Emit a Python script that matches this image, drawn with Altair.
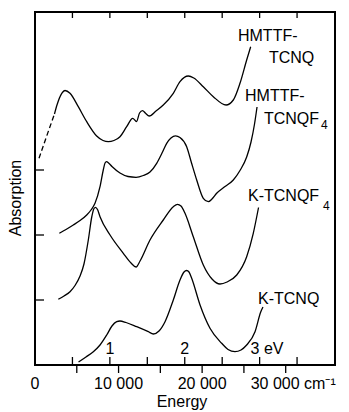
import altair as alt
import pandas as pd

# Energies in cm^-1 (thousands), absorption in arbitrary offset units
k_tcnq_e = [5.21, 6.10, 6.98, 7.78, 8.58, 9.21, 9.78, 10.17, 10.89, 12.17, 13.56, 14.16, 14.84, 15.56,
            16.55, 17.35, 17.83, 18.15, 18.43, 18.75, 19.75, 20.94, 22.34, 23.10, 23.93, 24.65, 25.33,
            26.33, 27.01, 27.28]
k_tcnq_a = [3, 8, 13.3, 20, 30, 39, 43.3, 44, 42.5, 38.3, 33.3, 31, 34, 43.3,
            65, 85, 93, 94.5, 93, 86.7, 60, 36.7, 21.7, 15.5, 13.3, 15, 20,
            33.3, 53, 58]

k_tcnqf4_e = [2.79, 3.47, 4.19, 4.79, 5.39, 5.86, 6.38, 6.79, 7.06, 7.24, 7.48, 7.78, 8.98, 10.57,
              11.49, 12.09, 12.57, 13.76, 15.35, 16.55, 17.05, 17.47, 17.95, 18.94, 20.14, 21.18,
              22.14, 22.98, 24.14, 25.33, 26.12, 26.75]
k_tcnqf4_a = [65.7, 69, 73.3, 79.5, 89, 101, 125, 148, 156.5, 157.7, 155.5, 148.3, 130, 111.7,
              102, 98, 104, 125, 145, 158.3, 160.7, 159, 151.7, 128.3, 100, 86,
              81, 83, 90, 108.3, 131.7, 157.5]

hm_tcnqf4_e = [2.91, 3.71, 4.58, 5.39, 6.19, 6.70, 7.18, 7.78, 8.17, 8.38, 8.56, 8.80, 9.21, 10.17,
               11.13, 12.09, 12.96, 13.76, 14.56, 15.20, 15.76, 16.27, 16.81, 17.35, 18.15, 18.73,
               19.35, 20.14, 20.74, 21.18, 21.74, 22.74, 23.73, 24.53, 25.33, 25.85, 26.27, 26.57]
hm_tcnqf4_a = [131.7, 135.5, 140, 144.5, 150, 155, 161.7, 178.3, 195, 202, 203.3, 202, 198.5, 192,
               188.5, 187.7, 189.5, 193, 201.7, 212, 221.7, 227, 229.2, 227.5, 218.3, 202,
               185, 166.7, 163.3, 166, 171.7, 178.5, 185, 194.5, 208, 223, 241, 258]

hm_tcnq_dash_e = [0.48, 1.40, 2.33]
hm_tcnq_dash_a = [206.7, 229, 251]

hm_tcnq_e = [2.33, 2.63, 3.20, 3.59, 4.19, 5.18, 6.19, 7.38, 8.14, 8.77, 9.45, 10.17, 10.97, 11.69,
             12.15, 12.51, 12.87, 13.20, 13.67, 14.48, 15.35, 16.55, 17.35, 18.35, 19.00, 20.14,
             21.34, 22.86, 23.73, 24.53, 25.33, 25.81]
hm_tcnq_a = [251, 260, 271.7, 274.5, 271.7, 258.3, 243.3, 229, 224.5, 223.3, 224.5, 228.3, 238.3, 246.7,
             243.5, 252, 254.3, 252, 249, 254, 260, 271.7, 283.3, 289, 287, 278.3,
             268.3, 260, 265, 281.7, 305, 318.3]

# curve labels
lab_text = ["HMTTF-", "TCNQ", "HMTTF-", "TCNQF", "4", "K-TCNQF", "4", "K-TCNQ"]
lab_e = [24.29, 28.0, 25.13, 27.40, 34.23, 25.49, 34.47, 26.69]
lab_a = [329, 307, 269, 246, 240.5, 169, 159.5, 66]
lab_size = [16, 16, 16, 16, 12, 16, 12, 16]

# axes
x_max = 35900
cm_ticks = [5000, 10000, 15000, 20000, 25000, 30000]
cm_lab_vals = [0, 10000, 20000]
cm_lab_text = ["0", "10 000", "20 000"]
ev_unit = 8960  # cm^-1 per eV as drawn
ev_ticks = [0.5, 1.0, 1.5, 2.0, 2.5, 3.0, 3.5]
ev_lab_vals = [1, 2]
ev_lab_text = ["1", "2"]
left_ticks = [65, 130, 195]

FONT = "Liberation Sans"

def curve_df(e, a, name):
    return pd.DataFrame({"E": [v * 1000 for v in e], "A": a, "s": name, "i": range(len(e))})

xs = alt.Scale(domain=[0, x_max], nice=False, zero=False)
ys = alt.Scale(domain=[0, 353], nice=False, zero=False)
X = lambda f="E": alt.X(f"{f}:Q", scale=xs, axis=None)
Y = lambda f="A": alt.Y(f"{f}:Q", scale=ys, axis=None)

curves = pd.concat([
    curve_df(k_tcnq_e, k_tcnq_a, "K-TCNQ"),
    curve_df(k_tcnqf4_e, k_tcnqf4_a, "K-TCNQF4"),
    curve_df(hm_tcnqf4_e, hm_tcnqf4_a, "HMTTF-TCNQF4"),
    curve_df(hm_tcnq_e, hm_tcnq_a, "HMTTF-TCNQ"),
])

lines = alt.Chart(curves).mark_line(color="black", strokeWidth=1.3, interpolate="monotone").encode(
    x=X(), y=Y(), detail="s:N", order="i:Q")

dash = alt.Chart(curve_df(hm_tcnq_dash_e, hm_tcnq_dash_a, "dash")).mark_line(
    color="black", strokeWidth=1.3, strokeDash=[5, 3]).encode(x=X(), y=Y(), order="i:Q")

labels = alt.Chart(pd.DataFrame({"t": lab_text, "E": [v * 1000 for v in lab_e], "A": lab_a, "sz": lab_size})).mark_text(
    align="left", baseline="middle", font=FONT, color="black").encode(
    x=X(), y=Y(), text="t:N", size=alt.Size("sz:Q", scale=None, legend=None))

left_t = alt.Chart(pd.DataFrame({"A": left_ticks})).mark_rule(color="black", strokeWidth=1.3).encode(
    x=alt.value(0), x2=alt.value(9), y=Y())

cm_t = alt.Chart(pd.DataFrame({"E": cm_ticks})).mark_rule(color="black", strokeWidth=1.3).encode(
    x=X(), y=alt.value(353), y2=alt.value(361))

ev_df = pd.DataFrame({"E": [v * ev_unit for v in ev_ticks]})
ev_bot = alt.Chart(ev_df).mark_rule(color="black", strokeWidth=1.3).encode(
    x=X(), y=alt.value(353), y2=alt.value(345))
ev_top = alt.Chart(ev_df).mark_rule(color="black", strokeWidth=1.3).encode(
    x=X(), y=alt.value(0), y2=alt.value(6))

ev_lab = alt.Chart(pd.DataFrame({"E": [v * ev_unit for v in ev_lab_vals], "t": ev_lab_text})).mark_text(
    align="center", baseline="middle", font=FONT, fontSize=16, color="black").encode(
    x=X(), y=alt.value(337), text="t:N")
ev_lab3 = alt.Chart(pd.DataFrame({"E": [3 * ev_unit], "t": ["3 eV"]})).mark_text(
    align="left", baseline="middle", font=FONT, fontSize=16, color="black", dx=-9).encode(
    x=X(), y=alt.value(337), text="t:N")

cm_lab = alt.Chart(pd.DataFrame({"E": cm_lab_vals, "t": cm_lab_text})).mark_text(
    align="center", baseline="middle", font=FONT, fontSize=16, color="black").encode(
    x=X(), y=alt.value(372), text="t:N")
cm_lab30 = alt.Chart(pd.DataFrame({"E": [30000], "t": ["30 000 cm⁻¹"]})).mark_text(
    align="left", baseline="middle", font=FONT, fontSize=16, color="black", dx=-35).encode(
    x=X(), y=alt.value(372), text="t:N")

energy_t = alt.Chart(pd.DataFrame({"t": ["Energy"]})).mark_text(
    align="center", baseline="top", font=FONT, fontSize=16, color="black").encode(
    x=alt.value(147), y=alt.value(382), text="t:N")
absorb_t = alt.Chart(pd.DataFrame({"t": ["Absorption"]})).mark_text(
    align="center", baseline="middle", font=FONT, fontSize=16, color="black", angle=270).encode(
    x=alt.value(-19), y=alt.value(186), text="t:N")

chart = alt.layer(lines, dash, labels, left_t, cm_t, ev_bot, ev_top, ev_lab, ev_lab3,
                  cm_lab, cm_lab30, energy_t, absorb_t).properties(
    width=300, height=353,
    autosize=alt.AutoSizeParams(type="none"),
    padding={"left": 27, "top": 4, "right": 6, "bottom": 47},
    background="white",
).configure_view(stroke="black", strokeWidth=2)

chart.save("out.html", embed_options={"renderer": "svg", "actions": False})
